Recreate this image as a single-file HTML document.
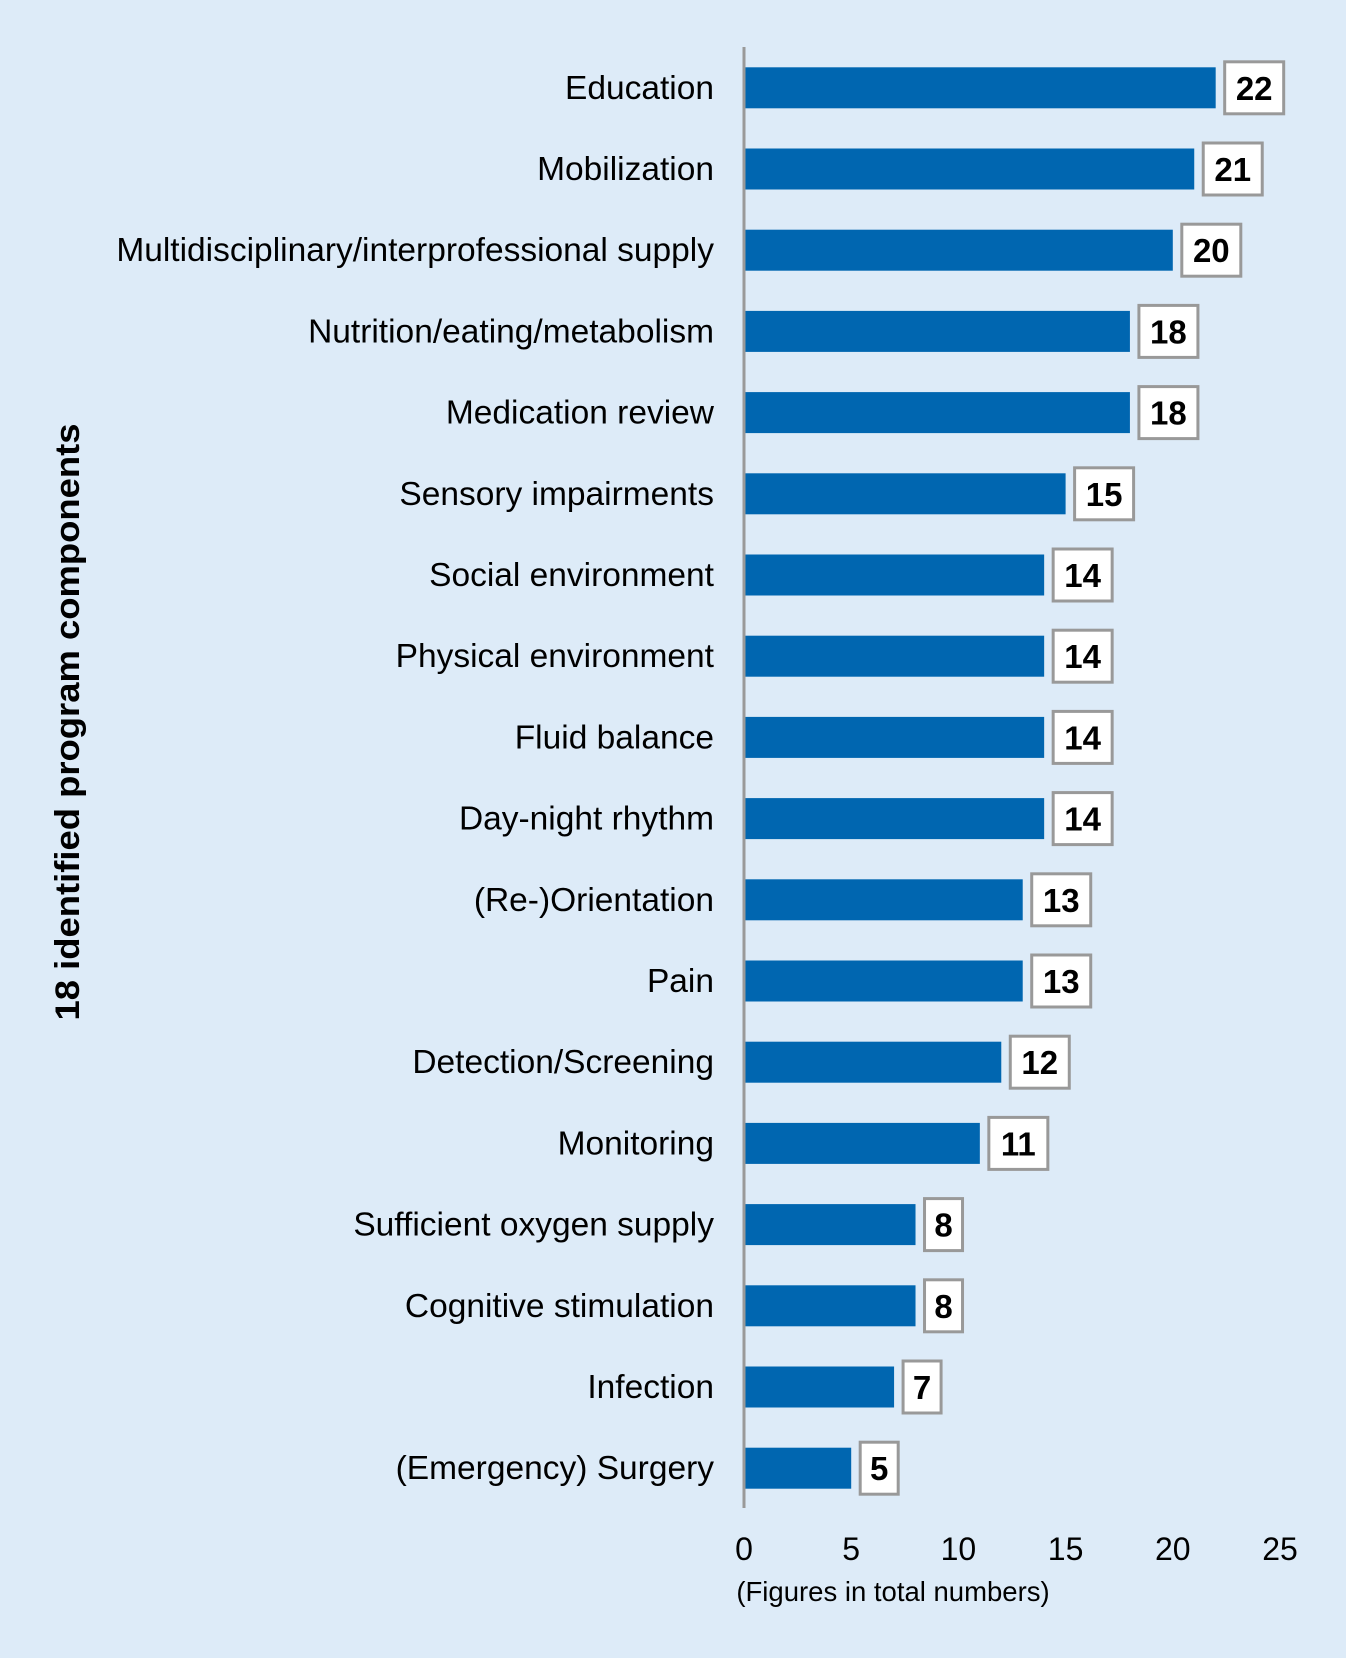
<!DOCTYPE html>
<html><head><meta charset="utf-8"><style>
html,body{margin:0;padding:0;background:#ddebf8;}
svg{display:block;font-family:"Liberation Sans",Arial,sans-serif;}
</style></head><body>
<svg id="chart" width="1346" height="1658" viewBox="0 0 1346 1658">
<rect x="0" y="0" width="1346" height="1658" fill="#ddebf8"/>
<g id="bars"></g>
<line x1="744" y1="47" x2="744" y2="1508" stroke="#999" stroke-width="3"/>
<g id="ticks"></g>
<text x="893" y="1601" text-anchor="middle" font-size="27.5" fill="#000">(Figures in total numbers)</text>
<text transform="translate(79,722) rotate(-90)" text-anchor="middle" font-size="34" font-weight="bold" fill="#000" textLength="597" lengthAdjust="spacingAndGlyphs">18 identified program components</text>
</svg>
<script>
const categories = ["Education","Mobilization","Multidisciplinary/interprofessional supply","Nutrition/eating/metabolism","Medication review","Sensory impairments","Social environment","Physical environment","Fluid balance","Day-night rhythm","(Re-)Orientation","Pain","Detection/Screening","Monitoring","Sufficient oxygen supply","Cognitive stimulation","Infection","(Emergency) Surgery"];
const values = [22,21,20,18,18,15,14,14,14,14,13,13,12,11,8,8,7,5];
const tickLabels = [0,5,10,15,20,25];

const NS = "http://www.w3.org/2000/svg";
const x0 = 744, pxPerUnit = 21.44;
const xScale = v => x0 + v * pxPerUnit;
const yCenter = i => 87.8 + i * 81.2;
const barH = 41;
const bars = document.getElementById('bars');
function mk(tag, attrs, parent){ const e=document.createElementNS(NS,tag); for(const k in attrs) e.setAttribute(k,attrs[k]); parent.appendChild(e); return e; }

categories.forEach((c,i)=>{
  const cy = yCenter(i), v = values[i];
  const lab = mk('text',{x:714,y:cy+11,'text-anchor':'end','font-size':33.5,fill:'#000'},bars);
  lab.textContent = c;
  
  
  const r = mk('rect',{x:x0,y:cy-barH/2,width:xScale(v)-x0,height:barH,fill:'#0066b0'},bars);
  
  
  const txt = String(v);
  const bw = txt.length>1 ? 59 : 38;
  const bx = xScale(v)+9;
  const box = mk('rect',{x:bx,y:cy-26,width:bw,height:52,fill:'#fff',stroke:'#999','stroke-width':3},bars);
  
  
  const t = mk('text',{x:bx+bw/2,y:cy+12,'text-anchor':'middle','font-size':33,'font-weight':'bold',fill:'#000'},bars);
  t.textContent = txt;
  
  
});
const ticks = document.getElementById('ticks');
tickLabels.forEach(v=>{
  const t = mk('text',{x:xScale(v),y:1560,'text-anchor':'middle','font-size':32,fill:'#000'},ticks);
  t.textContent = v;
  
  
});
</script>
</body></html>
